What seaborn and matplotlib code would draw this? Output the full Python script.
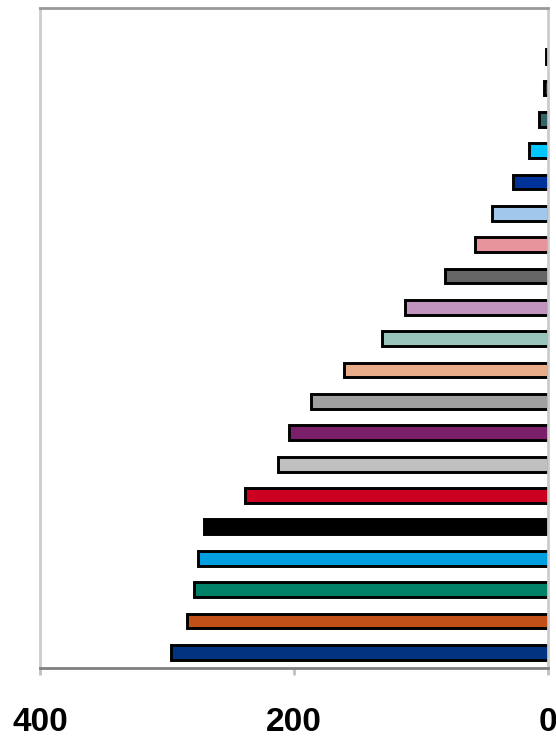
import pandas as pd
import numpy as np
import matplotlib
matplotlib.use('Agg')
import matplotlib.pyplot as plt
import seaborn as sns

# values read top to bottom, x axis runs 400 -> 0
categories = ['c01', 'c02', 'c03', 'c04', 'c05', 'c06', 'c07', 'c08', 'c09', 'c10',
              'c11', 'c12', 'c13', 'c14', 'c15', 'c16', 'c17', 'c18', 'c19', 'c20']
values = [1.6, 3, 7, 15, 28, 44, 58, 81, 113, 131,
          161, 187, 204, 213, 239, 271, 276, 279, 284, 297]
bar_colors = ['#4d4d4d', '#333333', '#336666', '#00c8ff', '#003399', '#a0c8ec',
              '#e8949c', '#666666', '#c094bc', '#98c4bc', '#e8ac88', '#a0a0a0',
              '#7a1f6a', '#c0c0c0', '#cc0020', '#000000', '#00a0e0', '#008066',
              '#c05018', '#003380']
x_ticks = [400, 200, 0]

df = pd.DataFrame({'category': categories, 'value': values})

sns.set_style('white')
plt.rcParams['font.family'] = ['Liberation Sans', 'DejaVu Sans']

fig = plt.figure(figsize=(5.56, 7.38), dpi=100)
ax = fig.add_axes([0.072, 0.095, 0.914, 0.894])

sns.barplot(data=df, x='value', y='category', hue='category', palette=bar_colors,
            orient='h', width=0.47, edgecolor='black', linewidth=2.1,
            saturation=1, legend=False, ax=ax)

ax.set_xlim(400, 0)
ax.set_ylim(19.5, -1.55)
ax.set_xticks(x_ticks)
ax.set_xticklabels([str(t) for t in x_ticks], fontsize=24, fontweight='bold', color='black')
ax.tick_params(axis='x', bottom=True, direction='out', length=5, width=2,
               color='#c0c0c0', pad=23)
ax.set_yticks([])
ax.set_xlabel('')
ax.set_ylabel('')

ax.spines['top'].set_color('#999999')
ax.spines['left'].set_color('#cccccc')
ax.spines['right'].set_color('#cccccc')
ax.spines['bottom'].set_color('#808080')
for s in ax.spines.values():
    s.set_linewidth(2)
    s.set_visible(True)

fig.savefig('out.png', dpi=100, facecolor='white')
